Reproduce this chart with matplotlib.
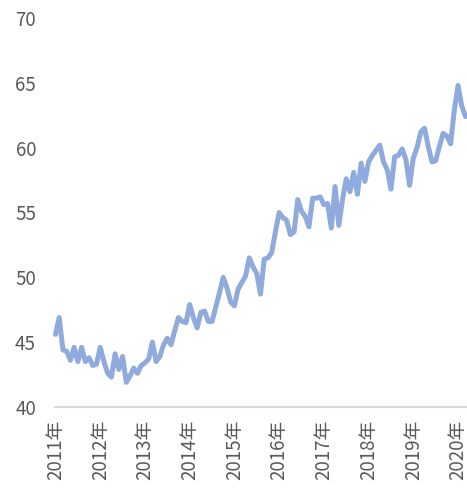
import matplotlib
matplotlib.use("Agg")
import matplotlib.pyplot as plt

plt.rcParams["font.family"] = ["Noto Sans CJK SC", "DejaVu Sans"]

# monthly values, 2011-01 .. 2020-03
years = ["2011年", "2012年", "2013年", "2014年", "2015年",
         "2016年", "2017年", "2018年", "2019年", "2020年"]
values = [
    45.6, 46.9, 44.4, 44.3, 43.6, 44.6, 43.5, 44.6, 43.5, 43.8, 43.2, 43.3,  # 2011
    44.6, 43.5, 42.6, 42.3, 44.1, 42.9, 43.9, 41.9, 42.4, 43.0, 42.6, 43.2,  # 2012
    43.4, 43.7, 45.0, 43.5, 43.9, 44.8, 45.3, 44.8, 45.9, 46.9, 46.6, 46.5,  # 2013
    47.9, 46.9, 46.1, 47.3, 47.4, 46.6, 46.6, 47.7, 48.8, 50.0, 49.2, 48.1,  # 2014
    47.8, 49.1, 49.6, 50.1, 51.5, 50.8, 50.3, 48.7, 51.4, 51.5, 51.9, 53.5,  # 2015
    55.0, 54.6, 54.4, 53.3, 53.5, 56.0, 55.1, 54.7, 53.9, 56.1, 56.1, 56.2,  # 2016
    55.6, 55.7, 53.8, 57.0, 54.0, 56.0, 57.6, 56.6, 58.1, 56.4, 58.8, 57.4,  # 2017
    58.9, 59.4, 59.8, 60.2, 58.9, 58.3, 56.8, 59.3, 59.4, 59.9, 59.1, 57.1,  # 2018
    59.2, 60.0, 61.2, 61.5, 60.1, 58.9, 59.0, 60.1, 61.1, 60.9, 60.3, 62.9,  # 2019
    64.8, 63.2, 62.4,                                                        # 2020
]
yticks = [40, 45, 50, 55, 60, 65, 70]

fig = plt.figure(figsize=(4.67, 4.99), dpi=100)
ax = fig.add_axes([0.1188, 0.1844, 0.878, 0.7795])

ax.plot(range(len(values)), values, color="#8FAADC", linewidth=3.6,
        solid_joinstyle="round", solid_capstyle="round", clip_on=False)

ax.set_xlim(0, len(values) - 1)
ax.set_ylim(40, 70)
ax.set_yticks(yticks)
ax.set_yticklabels([str(t) for t in yticks])
ax.set_xticks(range(0, len(values), 12))
ax.set_xticklabels(years, rotation=90, va="top", ha="center")

for s in ["top", "right", "left"]:
    ax.spines[s].set_visible(False)
ax.spines["bottom"].set_color("#D9D9D9")
ax.spines["bottom"].set_linewidth(1.5)
ax.spines["bottom"].set_bounds(-0.2, len(values) - 1)

ax.tick_params(axis="both", length=0, labelcolor="#595959", labelsize=13.5)
ax.tick_params(axis="y", pad=14)
ax.tick_params(axis="x", pad=9)

fig.savefig("out.png", dpi=100)
